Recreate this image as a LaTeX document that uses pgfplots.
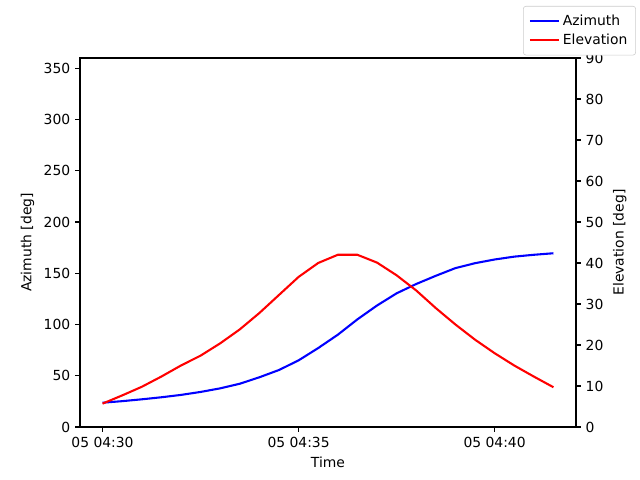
\documentclass[border=0pt]{standalone}
\usepackage{fontspec}
\setmainfont{DejaVu Sans}
\usepackage{pgfplots}
\pgfplotsset{compat=1.18}
\usepackage{pgfplotstable}

% time in minutes after 05 04:30
\pgfplotstableread{
t    az     el
0.0  23.7   5.7
0.5  25.2   7.7
1.0  27.0   9.8
1.5  29.0  12.3
2.0  31.3  15.0
2.5  34.2  17.4
3.0  37.7  20.4
3.5  42.2  23.8
4.0  48.5  27.8
4.5  55.6  32.2
5.0  65.0  36.6
5.5  77.0  40.0
6.0  90.0  42.0
6.5 105.0  42.0
7.0 118.5  40.1
7.5 130.4  37.0
8.0 139.5  33.3
8.5 147.5  29.0
9.0 155.0  25.0
9.5 159.8  21.3
10.0 163.4  18.0
10.5 166.2  15.0
11.0 168.0  12.3
11.5 169.5   9.7
}\track

\pgfplotsset{
  base/.style={
    scale only axis,
    width=357.1pt, height=265.7pt,
    xmin=-0.575, xmax=12.075,
    tick align=outside,
    major tick length=3.5pt,
    every tick/.style={black, line width=0.8pt},
    axis line style={line width=0.8pt},
    tick label style={font=\fontsize{10}{12}\selectfont},
    label style={font=\fontsize{10}{12}\selectfont},
    /pgf/number format/assume math mode=true,
    scaled ticks=false,
  },
}

\begin{document}
\begin{tikzpicture}
\begin{axis}[base,
  name=ax,
  ymin=0, ymax=360,
  ytick={0,50,...,350},
  xtick={0,5,10},
  xticklabels={05 04:30, 05 04:35, 05 04:40},
  xtick pos=bottom, ytick pos=left,
  xlabel={Time}, ylabel={Azimuth [deg]},
]
\addplot[blue, line width=1.5pt] table[x=t, y=az] {\track};
\coordinate (ll) at (rel axis cs:0,0);
\end{axis}
\begin{axis}[base,
  ymin=0, ymax=90,
  ytick={0,10,...,90},
  axis x line=none,
  axis y line*=right,
  ylabel={Elevation [deg]},
  ylabel near ticks,
  legend style={at={(1.121,1.141)}, anchor=north east,
    draw=black!20, rounded corners=2pt,
    font=\fontsize{10}{12}\selectfont,
    row sep=1pt, inner sep=4pt},
  legend cell align=left,
  legend image code/.code={\draw[#1] (0pt,0pt) -- (21pt,0pt);},
]
\addlegendimage{blue, line width=1.5pt}
\addlegendentry{Azimuth}
\addplot[red, line width=1.5pt] table[x=t, y=el] {\track};
\addlegendentry{Elevation}
\end{axis}
\pgfresetboundingbox
\path (ll) ++(-57.6pt,-38.16pt) rectangle ++(460.8pt,345.6pt);
\end{tikzpicture}
\end{document}
